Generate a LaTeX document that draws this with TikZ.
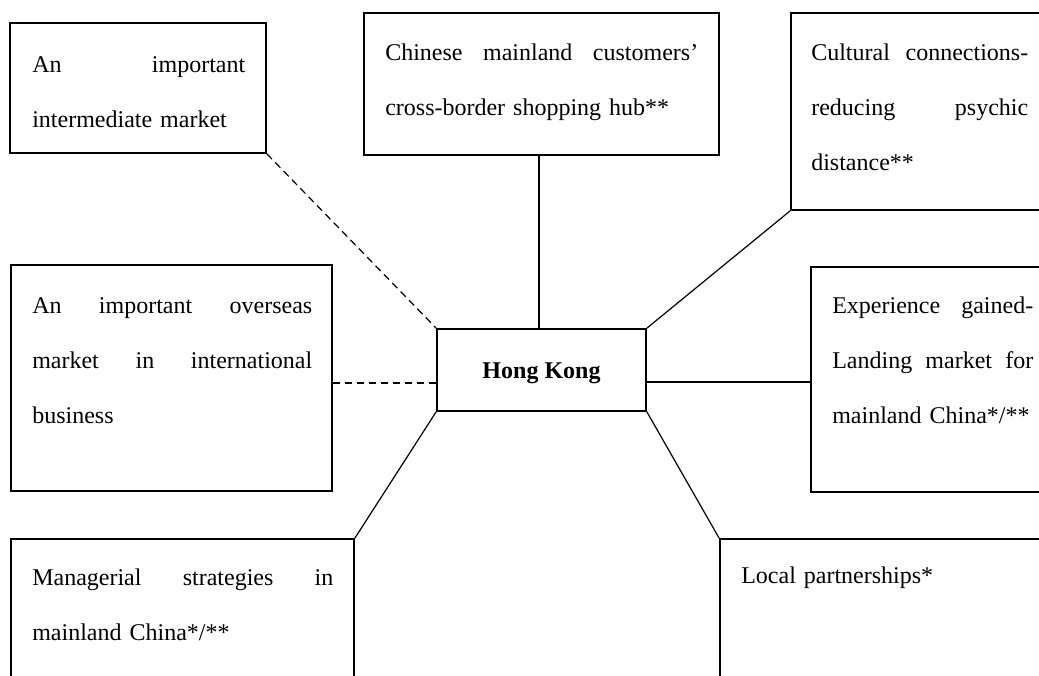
\documentclass[tikz,border=0pt]{standalone}
\usepackage{fontspec}
\setmainfont{Liberation Serif}
\usetikzlibrary{fit}
\begin{document}
\begin{tikzpicture}[x=0.75pt,y=-0.75pt,
  box/.style={draw, line width=1.3pt, inner sep=0pt},
  link/.style={line width=0.9pt},
  dashlink/.style={line width=0.9pt, dash pattern=on 5.5pt off 3.5pt},
  txt/.style={anchor=base west, inner sep=0pt, font=\fontsize{18}{41.6}\selectfont}]
\path[fill=white] (0,0) rectangle (1039,675);
\useasboundingbox (0,0) rectangle (1039,675);
\clip (0,0) rectangle (1039,675);

% boxes
\node[box, fit={(10,23) (266,153)}] (A) {};
\node[box, fit={(364,13) (719,155)}] (B) {};
\node[box, fit={(791,13) (1050,210)}] (C) {};
\node[box, fit={(11,265) (332,491)}] (D) {};
\node[box, fit={(437,329) (646,411)}] (HK) {};
\node[box, fit={(811,267) (1050,492)}] (E) {};
\node[box, fit={(11,539) (354,690)}] (F) {};
\node[box, fit={(720,539) (1050,690)}] (G) {};

% texts
\node[txt, text width=159.75pt] (tA) at (32,72) {An\hfill important\\intermediate market};
\node[txt, text width=234.75pt] (tB) at (385,60) {Chinese\hfill mainland\hfill customers’\\cross-border shopping hub**};
\node[txt, text width=162.75pt] (tC) at (811,60) {Cultural\hfill connections-\\reducing\hfill psychic\\distance**};
\node[txt, text width=210pt] (tD) at (32,313) {An\hfill important\hfill overseas\\market\hfill in\hfill international\\business};
\node[txt, text width=150.75pt] (tE) at (832,313) {Experience\hfill gained-\\Landing\hfill market\hfill for\\mainland China*/**};
\node[txt, text width=225.75pt] (tF) at (32,585) {Managerial\hfill strategies\hfill in\\mainland China*/**};
\node[txt, text width=200pt] (tG) at (741,583) {Local partnerships*};
\node[font=\fontsize{18}{20}\selectfont\bfseries, anchor=base, inner sep=0pt] (hkt) at (541.5,378) {Hong Kong};

% connectors
\coordinate (yl) at (0,383);
\coordinate (yr) at (0,382);
\coordinate (xb) at (539,0);
\draw[dashlink] (A.south east) -- (HK.north west);
\draw[link] (B.south -| xb) -- (HK.north -| xb);
\draw[link] (C.south west) -- (HK.north east);
\draw[dashlink] (D.east |- yl) -- (HK.west |- yl);
\draw[link] (HK.east |- yr) -- (E.west |- yr);
\draw[link] (HK.south west) -- (F.north east);
\draw[link] (HK.south east) -- (G.north west);
\end{tikzpicture}
\end{document}
